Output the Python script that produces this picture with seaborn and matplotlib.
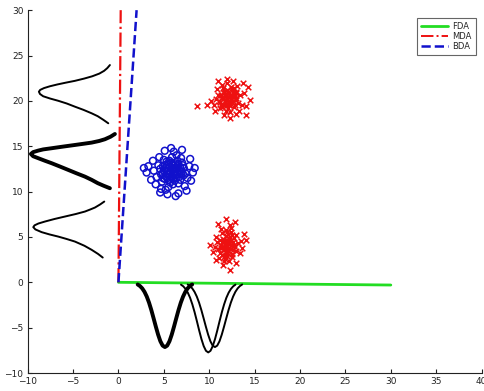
import matplotlib
matplotlib.use("Agg")
import matplotlib.pyplot as plt
import seaborn as sns
from matplotlib.lines import Line2D

# ---------------- data ----------------
blue_x = [5.8, 6.1, 5.4, 6.4, 5.9, 5.2, 6.7, 6.0, 5.5, 6.3, 4.9, 6.9, 5.7, 6.5, 5.1, 6.2, 5.6, 7.2, 4.6, 6.8,
          5.3, 6.0, 7.0, 4.8, 5.9, 6.6, 4.4, 7.4, 5.0, 6.4, 5.5, 7.6, 4.2, 6.9, 5.2, 7.8, 3.9, 6.1, 4.5, 7.3,
          3.3, 3.1, 3.6, 5.1, 7.0, 8.2, 8.0, 5.4, 6.6, 4.7, 3.8, 7.9, 4.1, 6.3, 5.8, 8.4, 2.8, 4.6, 7.5, 6.8,
          5.6, 6.2, 5.9, 6.5, 5.3, 6.0, 5.7, 6.4, 5.0, 6.8, 5.4, 6.1, 5.8, 6.6, 4.9, 6.3, 5.5, 7.0, 5.2, 6.7,
          5.9, 6.2, 5.6, 4.7, 7.1, 5.3, 6.0, 6.5, 4.9, 7.2]
blue_y = [12.2, 12.5, 11.9, 11.8, 12.9, 12.6, 12.4, 11.4, 12.3, 13.1, 12.0, 11.9, 11.0, 12.8, 11.4, 12.0, 13.4, 12.6, 12.5, 11.3,
          13.0, 10.8, 13.2, 11.1, 13.8, 10.9, 12.9, 12.0, 13.5, 14.0, 10.5, 11.5, 11.6, 13.7, 10.2, 12.8, 12.3, 14.4, 13.8, 10.6,
          12.8, 12.1, 11.3, 14.5, 14.6, 12.1, 11.2, 9.7, 9.8, 10.3, 13.4, 13.6, 10.8, 9.5, 14.8, 12.6, 12.6, 9.9, 10.1, 12.2,
          12.0, 12.3, 11.6, 12.1, 12.2, 13.0, 12.7, 11.5, 12.3, 12.7, 11.5, 11.9, 13.2, 13.0, 12.8, 12.6, 12.9, 12.2, 11.7, 11.6,
          12.4, 11.2, 11.3, 11.9, 12.9, 13.3, 12.0, 13.4, 11.5, 11.8]

red1_x = [12.0, 12.3, 11.7, 12.6, 11.9, 11.4, 12.8, 12.2, 11.6, 12.5, 11.1, 13.0, 11.8, 12.4, 11.3, 12.1, 13.2, 11.0, 12.7, 11.5,
          12.9, 11.2, 13.4, 12.0, 11.8, 13.1, 10.8, 12.6, 10.5, 13.6, 11.4, 12.3, 13.8, 10.9, 12.0, 13.3, 10.2, 14.3, 14.5, 14.1,
          12.3, 9.7, 8.7, 11.6, 13.7, 11.0, 12.9, 10.6, 14.0, 12.2,
          12.1, 11.8, 12.4, 12.2, 11.5, 12.7, 11.9, 12.5, 11.7, 12.3, 11.3, 12.9, 12.0, 11.6, 12.6, 11.2, 12.8, 11.9, 12.2, 12.4,
          11.6, 13.0, 11.4, 12.7, 12.1]
red1_y = [20.2, 20.5, 19.9, 20.0, 20.8, 20.4, 20.7, 19.6, 20.9, 21.2, 20.0, 20.3, 19.4, 21.5, 19.6, 21.0, 19.8, 20.7, 19.3, 21.4,
          21.0, 19.2, 20.6, 22.0, 18.9, 21.6, 20.2, 22.2, 19.6, 19.6, 21.8, 18.8, 20.9, 21.3, 22.4, 18.9, 20.0, 21.5, 20.1, 18.4,
          18.1, 19.6, 19.4, 18.4, 22.0, 22.2, 18.5, 18.9, 19.4, 20.0,
          20.4, 20.1, 19.9, 20.9, 20.2, 20.4, 19.7, 20.6, 20.6, 19.5, 20.6, 20.1, 21.2, 19.6, 21.0, 19.9, 19.6, 20.5, 19.9, 20.3,
          21.1, 20.9, 19.3, 21.4, 19.2]

red2_x = [11.9, 12.2, 11.6, 12.4, 11.8, 11.3, 12.6, 12.0, 11.5, 12.3, 11.0, 12.8, 11.7, 12.1, 11.2, 12.0, 13.0, 10.9, 12.5, 11.4,
          12.7, 11.1, 13.2, 11.9, 11.6, 13.0, 10.6, 12.4, 10.4, 13.4, 11.3, 12.2, 13.5, 10.8, 11.9, 12.3, 14.1, 10.1, 12.3, 11.5,
          12.9, 13.6, 10.7, 11.0, 12.8, 13.8, 12.0, 11.4,
          12.0, 11.7, 12.2, 11.9, 11.5, 12.4, 11.8, 12.3, 11.6, 12.1, 11.3, 12.6, 11.8, 12.0, 12.5, 11.4, 12.7, 11.9, 12.2, 11.6,
          12.0, 11.2, 12.5, 11.7, 12.4]
red2_y = [3.9, 4.2, 3.6, 3.7, 4.5, 4.1, 4.4, 3.2, 4.8, 5.0, 3.7, 3.9, 2.9, 5.3, 3.2, 4.7, 3.4, 4.4, 2.8, 5.4,
          4.9, 2.7, 4.3, 5.8, 2.4, 5.2, 3.9, 6.0, 3.3, 3.2, 5.9, 2.3, 4.6, 5.0, 7.0, 6.3, 4.7, 4.1, 1.4, 1.9,
          2.1, 3.8, 2.5, 6.4, 6.6, 5.3, 3.6, 4.4,
          4.0, 4.2, 3.8, 4.7, 3.9, 4.1, 3.3, 4.6, 4.5, 3.4, 3.8, 3.6, 5.1, 2.9, 5.2, 3.0, 4.1, 4.3, 4.9, 3.7,
          5.5, 4.7, 3.1, 2.6, 5.5]

# projection directions (start / end points)
fda_x = [0, 30]
fda_y = [0, -0.3]
mda_x = [0, 0.25]
mda_y = [0, 30]
bda_x = [0, 2.0]
bda_y = [0, 30]

# density curves (left side, vertical)
left1_x = [-0.94, -1.23, -1.58, -2.10, -2.89, -3.77, -4.79, -5.79, -6.73, -7.55, -8.20, -8.62, -8.76,
           -8.64, -8.29, -7.53, -6.63, -5.69, -4.79, -3.85, -2.95, -2.28, -1.66, -1.12]
left1_y = [23.95, 23.61, 23.31, 23.01, 22.71, 22.46, 22.21, 22.01, 21.81, 21.61, 21.41, 21.21, 21.01,
           20.76, 20.51, 20.26, 20.01, 19.71, 19.36, 19.01, 18.63, 18.31, 17.91, 17.53]
left2_x = [-0.39, -0.87, -1.49, -2.12, -2.95, -3.86, -4.79, -6.17, -7.36, -8.29, -8.83, -9.40, -9.64,
           -9.40, -8.83, -8.10, -7.36, -6.41, -5.53, -4.63, -3.69, -2.94, -2.28, -1.64, -0.94]
left2_y = [16.35, 16.05, 15.77, 15.58, 15.40, 15.27, 15.14, 14.95, 14.78, 14.65, 14.52, 14.35, 14.15,
           13.90, 13.68, 13.40, 13.13, 12.75, 12.39, 12.02, 11.65, 11.29, 10.93, 10.65, 10.37]
left3_x = [-1.56, -2.02, -2.59, -3.10, -3.69, -4.69, -5.89, -7.04, -8.09, -8.82, -9.24, -9.38,
           -9.15, -8.46, -7.60, -6.63, -5.72, -4.79, -3.75, -2.95, -2.25, -1.73]
left3_y = [8.90, 8.58, 8.24, 8.03, 7.80, 7.53, 7.25, 6.98, 6.70, 6.48, 6.28, 6.08,
           5.83, 5.53, 5.28, 5.04, 4.78, 4.49, 4.03, 3.58, 3.13, 2.73]

# density curves (bottom)
bot1_x = [2.12, 2.37, 2.62, 2.87, 3.12, 3.37, 3.62, 3.87, 4.12, 4.37, 4.62, 4.87, 5.12,
          5.37, 5.62, 5.87, 6.12, 6.37, 6.62, 6.87, 7.12, 7.37, 7.62, 7.87, 8.12]
bot1_y = [-0.24, -0.41, -0.67, -1.05, -1.57, -2.24, -3.05, -3.96, -4.89, -5.77, -6.50, -6.98, -7.14,
          -6.98, -6.50, -5.77, -4.89, -3.96, -3.05, -2.24, -1.57, -1.05, -0.67, -0.41, -0.24]
bot2_x = [6.89, 7.14, 7.39, 7.64, 7.89, 8.14, 8.39, 8.64, 8.89, 9.14, 9.39, 9.64, 9.89,
          10.14, 10.39, 10.64, 10.89, 11.14, 11.39, 11.64, 11.89, 12.14, 12.39, 12.64, 12.89]
bot2_y = [-0.26, -0.44, -0.73, -1.14, -1.70, -2.43, -3.30, -4.28, -5.30, -6.25, -7.03, -7.55, -7.73,
          -7.55, -7.03, -6.25, -5.30, -4.28, -3.30, -2.43, -1.70, -1.14, -0.73, -0.44, -0.26]
bot3_x = [7.63, 7.88, 8.13, 8.38, 8.63, 8.88, 9.13, 9.38, 9.63, 9.88, 10.13, 10.38, 10.63,
          10.88, 11.13, 11.38, 11.63, 11.88, 12.13, 12.38, 12.63, 12.88, 13.13, 13.38, 13.63]
bot3_y = [-0.24, -0.41, -0.67, -1.05, -1.57, -2.24, -3.05, -3.96, -4.89, -5.77, -6.50, -6.98, -7.14,
          -6.98, -6.50, -5.77, -4.89, -3.96, -3.05, -2.24, -1.57, -1.05, -0.67, -0.41, -0.24]

x_ticks = [-10, -5, 0, 5, 10, 15, 20, 25, 30, 35, 40]
y_ticks = [-10, -5, 0, 5, 10, 15, 20, 25, 30]
legend_labels = ["FDA", "MDA", "BDA"]

# ---------------- plot ----------------
sns.set_style("ticks")
plt.rcParams['font.family'] = ['DejaVu Sans']

fig = plt.figure(figsize=(4.85, 3.91), dpi=100)
ax = fig.add_axes([0.057, 0.046, 0.936, 0.928])

GREEN = "#22dd22"
RED = "#ee1111"
BLUE = "#1111cc"

sns.lineplot(x=fda_x, y=fda_y, sort=False, estimator=None, color=GREEN, lw=2.0, ax=ax)
sns.lineplot(x=mda_x, y=mda_y, sort=False, estimator=None, color=RED, lw=1.6, linestyle='-.', ax=ax)
sns.lineplot(x=bda_x, y=bda_y, sort=False, estimator=None, color=BLUE, lw=1.8, linestyle='--', ax=ax)

sns.scatterplot(x=blue_x, y=blue_y, marker='o', s=24, fc='none', ec=BLUE, linewidth=1.1, ax=ax)
sns.scatterplot(x=red1_x, y=red1_y, marker='x', s=16, color=RED, linewidth=1.1, ax=ax)
sns.scatterplot(x=red2_x, y=red2_y, marker='x', s=16, color=RED, linewidth=1.1, ax=ax)

for cx, cy, w in [(left1_x, left1_y, 1.4), (left2_x, left2_y, 2.8), (left3_x, left3_y, 1.4),
                  (bot1_x, bot1_y, 2.8), (bot2_x, bot2_y, 1.4), (bot3_x, bot3_y, 1.4)]:
    sns.lineplot(x=cx, y=cy, sort=False, estimator=None, color='black', lw=w, ax=ax)

ax.set_xlim(-10, 40)
ax.set_ylim(-10, 30)
ax.set_xticks(x_ticks)
ax.set_yticks(y_ticks)
ax.tick_params(direction='in', length=3, width=0.8, labelsize=6.5, colors='#222222', pad=3)
for s in ['top', 'right']:
    ax.spines[s].set_visible(False)
for s in ['left', 'bottom']:
    ax.spines[s].set_linewidth(0.8)
    ax.spines[s].set_color('#222222')

handles = [Line2D([], [], color=GREEN, lw=2.0),
           Line2D([], [], color=RED, lw=1.4, linestyle='-.'),
           Line2D([], [], color=BLUE, lw=1.8, linestyle='--')]
leg = ax.legend(handles, legend_labels, loc='upper right', bbox_to_anchor=(0.997, 0.99),
                fontsize=6, frameon=True, fancybox=False, framealpha=1,
                edgecolor='#666666', handlelength=3.2, borderpad=0.5, labelspacing=0.1,
                handletextpad=0.6)
leg.get_frame().set_linewidth(0.8)

fig.savefig("out.png", dpi=100)
